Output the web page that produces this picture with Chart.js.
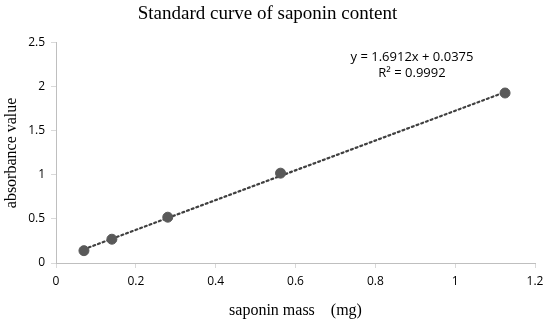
<!DOCTYPE html>
<html>
<head>
<meta charset="utf-8">
<script src="https://cdn.jsdelivr.net/npm/chart.js@4"></script>
<style>
  html, body { margin: 0; padding: 0; background: #fff; }
  #wrap { width: 550px; height: 320px; }
</style>
</head>
<body>
<div id="wrap"><canvas id="chart"></canvas></div>
<script>
// data
const massValues = [0.07, 0.14, 0.28, 0.5625, 1.125];
const absorbanceValues = [0.14, 0.27, 0.52, 1.02, 1.93];
// trendline ends (y = 1.6912x + 0.0375)
const trendX = [0.07, 1.125];
const trendY = [0.156, 1.94];
const xTicks = [0, 0.2, 0.4, 0.6, 0.8, 1, 1.2];
const yTicks = [0, 0.5, 1, 1.5, 2, 2.5];
const equationLines = ['y = 1.6912x + 0.0375', 'R² = 0.9992'];

const tickFont = { family: "'Open Sans', 'Liberation Sans', sans-serif", size: 12 };
const serif = "'Liberation Serif', 'DejaVu Serif', serif";

// write the trendline equation like excel does
const equationLabel = {
    id: 'equationLabel',
    afterDraw(chart) {
        const ctx = chart.ctx;
        ctx.save();
        ctx.fillStyle = '#000';
        ctx.font = "13px 'Open Sans', 'Liberation Sans', sans-serif";
        ctx.textAlign = 'center';
        ctx.textBaseline = 'middle';
        ctx.fillText(equationLines[0], 412, 57);
        ctx.fillText(equationLines[1], 412, 73);
        ctx.restore();
    }
};

const ctx = document.getElementById('chart').getContext('2d');

new Chart(ctx, {
    type: 'scatter',
    data: {
        datasets: [
            {
                label: 'trend',
                data: trendX.map((x, i) => ({ x: x, y: trendY[i] })),
                showLine: true,
                borderColor: '#404040',
                borderWidth: 2.2,
                borderDash: [2, 3],
                borderCapStyle: 'round',
                pointRadius: 0,
                order: 2,
            },
            {
                label: 'absorbance',
                data: massValues.map((x, i) => ({ x: x, y: absorbanceValues[i] })),
                backgroundColor: '#595959',
                borderColor: '#595959',
                pointRadius: 5,
                order: 1,
            },
        ],
    },
    options: {
        responsive: true,
        maintainAspectRatio: false,
        animation: false,
        layout: { padding: { left: 0, right: 15, top: 0, bottom: 0 } },
        plugins: {
            legend: { display: false },
            tooltip: { enabled: false },
            title: {
                display: true,
                text: 'Standard curve of saponin content',
                color: '#000',
                font: { family: serif, size: 19, weight: 'normal' },
                padding: { top: 3, bottom: 17 },
            },
        },
        scales: {
            x: {
                type: 'linear',
                min: 0,
                max: 1.2,
                afterBuildTicks: scale => { scale.ticks = xTicks.map(v => ({ value: v })); },
                afterFit: scale => { scale.height = 57; },
                ticks: {
                    color: '#000',
                    font: tickFont,
                    padding: 6,
                    maxRotation: 0,
                    callback: v => String(v),
                },
                grid: { drawOnChartArea: false, tickLength: 5, color: '#d9d9d9' },
                border: { color: '#bfbfbf' },
                title: {
                    display: true,
                    text: 'saponin mass\u3000(mg)',
                    color: '#000',
                    font: { family: serif, size: 16 },
                    padding: { top: 2, bottom: 0 },
                },
            },
            y: {
                type: 'linear',
                min: 0,
                max: 2.5,
                afterBuildTicks: scale => { scale.ticks = yTicks.map(v => ({ value: v })); },
                afterFit: scale => { scale.width = 56; },
                ticks: {
                    color: '#000',
                    font: tickFont,
                    padding: 6,
                    callback: v => String(v),
                },
                grid: { drawOnChartArea: false, tickLength: 5, color: '#d9d9d9' },
                border: { color: '#bfbfbf' },
                title: {
                    display: true,
                    text: 'absorbance value',
                    color: '#000',
                    font: { family: serif, size: 16 },
                    padding: { top: 2, bottom: 0 },
                },
            },
        },
    },
    plugins: [equationLabel],
});
</script>
</body>
</html>
